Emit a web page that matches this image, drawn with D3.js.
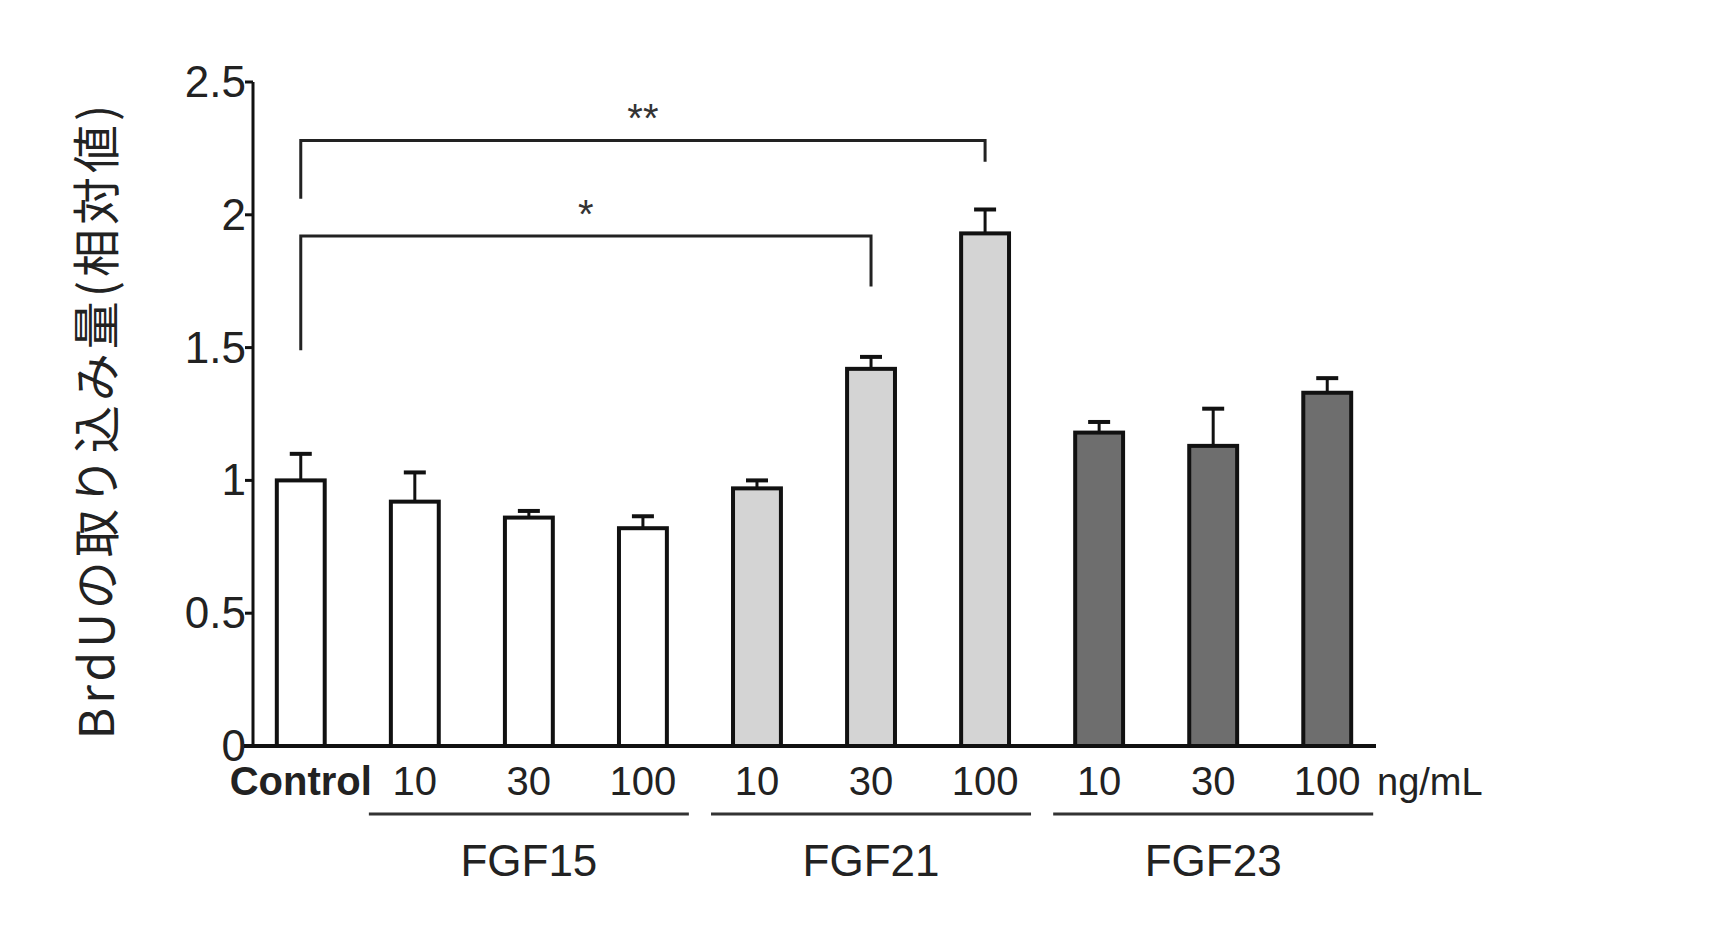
<!DOCTYPE html>
<html><head><meta charset="utf-8">
<script src="https://cdn.jsdelivr.net/npm/d3@7"></script>
<style>body{margin:0;background:#fff}</style>
</head><body>
<div id="chart"></div>
<script>
const labels = ["Control","10","30","100","10","30","100","10","30","100"]
const means  = [1.00,0.92,0.86,0.82,0.97,1.42,1.93,1.18,1.13,1.33]
const errTop = [1.10,1.03,0.885,0.865,1.00,1.465,2.02,1.22,1.27,1.385]
const groupOf = ["c","a","a","a","b","b","b","d","d","d"]
const groups = [{name:"FGF15",from:1,to:3},{name:"FGF21",from:4,to:6},{name:"FGF23",from:7,to:9}]
const yTicks = [0,0.5,1,1.5,2,2.5]
const brackets = [
  {from:0,to:6,y:2.28,left:2.06,right:2.2,text:"**"},
  {from:0,to:5,y:1.92,left:1.49,right:1.73,text:"*"}
]
const colours = {c:"#fff",a:"#fff",b:"#d4d4d4",d:"#6e6e6e"}

const svg = d3.select("#chart").append("svg").attr("width",1715).attr("height",928)
  .style("font-family","'Liberation Sans',Arial,sans-serif")

const y = d3.scaleLinear().domain([0,2.5]).range([746,82])
const x = d3.scaleBand().domain(d3.range(labels.length)).range([254,1374]).paddingInner(0.58).paddingOuter(0.2)
const cx = i => x(i)+x.bandwidth()/2

// y axis
svg.append("line").attr("x1",253).attr("x2",253).attr("y1",82).attr("y2",746).attr("stroke","#111").attr("stroke-width",3)
yTicks.forEach(t=>{
  svg.append("line").attr("x1",245).attr("x2",253).attr("y1",y(t)).attr("y2",y(t)).attr("stroke","#111").attr("stroke-width",3)
  svg.append("text").attr("x",246).attr("y",y(t)+15).attr("text-anchor","end")
    .attr("font-size",44).attr("fill","#222").text(t)
})
svg.append("text").attr("transform","translate(114,420) rotate(-90)").attr("text-anchor","middle")
  .attr("font-size",48).attr("letter-spacing",4).attr("fill","#222")
  .style("font-family","'Noto Sans CJK JP',sans-serif").text("BrdUの取り込み量(相対値)")

// bars
svg.selectAll(".err").data(means).join("g").each(function(d,i){
  const g=d3.select(this)
  g.append("line").attr("x1",cx(i)).attr("x2",cx(i)).attr("y1",y(d)).attr("y2",y(errTop[i])).attr("stroke","#111").attr("stroke-width",3)
  g.append("line").attr("x1",cx(i)-11).attr("x2",cx(i)+11).attr("y1",y(errTop[i])).attr("y2",y(errTop[i])).attr("stroke","#111").attr("stroke-width",4)
})
svg.selectAll(".bar").data(means).join("rect")
  .attr("x",(d,i)=>x(i)).attr("width",x.bandwidth())
  .attr("y",d=>y(d)).attr("height",d=>y(0)-y(d))
  .attr("fill",(d,i)=>colours[groupOf[i]]).attr("stroke","#111").attr("stroke-width",4)

// x axis
svg.append("line").attr("x1",244).attr("x2",1376).attr("y1",746).attr("y2",746).attr("stroke","#111").attr("stroke-width",4)
labels.forEach((l,i)=>{
  svg.append("text").attr("x",cx(i)).attr("y",795).attr("text-anchor","middle")
    .attr("font-size",40).attr("fill","#222").attr("font-weight",i==0?"bold":"normal").text(l)
})
svg.append("text").attr("x",1377).attr("y",795).attr("font-size",38).attr("fill","#222").text("ng/mL")
groups.forEach(g=>{
  const x1=x(g.from)-22, x2=x(g.to)+x.bandwidth()+22
  svg.append("line").attr("x1",x1).attr("x2",x2).attr("y1",814).attr("y2",814).attr("stroke","#333").attr("stroke-width",3)
  svg.append("text").attr("x",(x1+x2)/2).attr("y",876).attr("text-anchor","middle").attr("font-size",44).attr("fill","#222").text(g.name)
})

// significance brackets
brackets.forEach(b=>{
  svg.append("path").attr("fill","none").attr("stroke","#222").attr("stroke-width",3)
    .attr("d",`M${cx(b.from)},${y(b.left)}V${y(b.y)}H${cx(b.to)}V${y(b.right)}`)
  svg.append("text").attr("x",(cx(b.from)+cx(b.to))/2).attr("y",y(b.y)-8).attr("text-anchor","middle")
    .attr("font-size",40).attr("fill","#333").text(b.text)
})
</script>
</body></html>
